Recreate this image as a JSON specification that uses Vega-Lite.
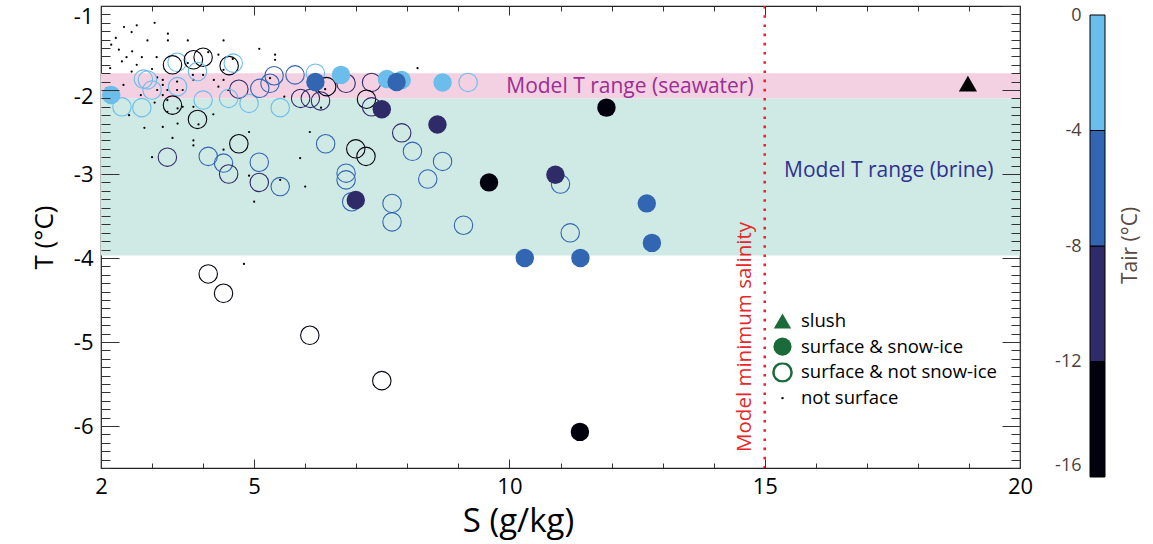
{
  "$schema": "https://vega.github.io/schema/vega-lite/v6.json",
  "width": 919,
  "height": 462,
  "autosize": {"type": "none"},
  "padding": {"left": 101, "top": 6, "right": 133, "bottom": 76},
  "background": "white",
  "config": {
    "font": "Open Sans",
    "view": {"stroke": "#222", "strokeWidth": 1.2}
  },
  "datasets": {
    "pinkband": [{"S": 2, "S2": 20, "T": -1.8, "T2": -2.1}],
    "tealband": [{"S": 2, "S2": 20, "T": -2.1, "T2": -3.97}],
    "rule": [{"S": 15, "T": -1, "T2": -6.5}],
    "kinds": [{"kind": "slush"}, {"kind": "surface & snow-ice"}, {"kind": "surface & not snow-ice"}, {"kind": "not surface"}],
    "dots": [
      {"S":2.70,"T":-1.23},{"S":2.60,"T":-1.31},{"S":2.29,"T":-1.38},{"S":2.20,"T":-1.46},
      {"S":2.91,"T":-1.41},{"S":3.31,"T":-1.33},{"S":3.31,"T":-1.41},{"S":3.70,"T":-1.41},
      {"S":4.40,"T":-1.41},{"S":5.10,"T":-1.51},{"S":2.61,"T":-1.54},{"S":2.50,"T":-1.61},
      {"S":2.41,"T":-1.66},{"S":2.80,"T":-1.61},{"S":3.09,"T":-1.61},{"S":2.70,"T":-1.70},
      {"S":3.70,"T":-1.68},{"S":4.30,"T":-1.58},{"S":5.41,"T":-1.58},{"S":5.41,"T":-1.64},
      {"S":3.10,"T":-1.85},{"S":3.21,"T":-1.88},{"S":3.21,"T":-1.94},{"S":3.49,"T":-1.90},
      {"S":3.60,"T":-2.00},{"S":3.49,"T":-2.00},{"S":3.30,"T":-2.00},{"S":3.80,"T":-1.82},
      {"S":4.00,"T":-1.82},{"S":3.81,"T":-1.88},{"S":4.21,"T":-1.88},{"S":4.30,"T":-1.96},
      {"S":4.40,"T":-1.88},{"S":4.49,"T":-2.00},{"S":4.40,"T":-1.76},{"S":4.58,"T":-1.63},
      {"S":2.44,"T":-1.94},{"S":2.11,"T":-1.98},{"S":2.78,"T":-2.06},{"S":3.10,"T":-2.00},
      {"S":3.21,"T":-2.06},{"S":3.30,"T":-2.12},{"S":3.60,"T":-2.20},{"S":3.81,"T":-2.20},
      {"S":3.30,"T":-2.26},{"S":4.20,"T":-2.29},{"S":3.50,"T":-2.40},{"S":3.91,"T":-2.41},
      {"S":3.21,"T":-2.44},{"S":3.40,"T":-2.57},{"S":3.81,"T":-2.60},{"S":3.81,"T":-2.66},
      {"S":3.00,"T":-2.80},{"S":4.40,"T":-2.71},{"S":4.90,"T":-2.50},{"S":4.90,"T":-3.02},
      {"S":5.51,"T":-3.07},{"S":5.90,"T":-2.81},{"S":6.00,"T":-3.15},{"S":6.09,"T":-2.50},
      {"S":5.59,"T":-2.08},{"S":5.31,"T":-1.86},{"S":2.18,"T":-1.74},{"S":3.50,"T":-2.22},
      {"S":5.00,"T":-3.33},{"S":4.80,"T":-4.07},{"S":8.20,"T":-1.74},{"S":6.39,"T":-1.99},
      {"S":6.31,"T":-2.21},{"S":2.45,"T":-1.25},{"S":3.05,"T":-1.20},{"S":2.35,"T":-1.52},
      {"S":3.00,"T":-1.75},{"S":2.60,"T":-1.78},{"S":2.30,"T":-2.08},{"S":2.55,"T":-2.30},
      {"S":3.05,"T":-2.15},{"S":2.85,"T":-2.45},{"S":4.10,"T":-1.55}
    ],
    "open": [
      {"S":3.49,"T":-1.67,"Tair":-2},{"S":3.40,"T":-1.70,"Tair":-14},{"S":3.81,"T":-1.64,"Tair":-14},{"S":4.00,"T":-1.61,"Tair":-14},
      {"S":3.89,"T":-1.78,"Tair":-2},{"S":4.51,"T":-1.71,"Tair":-14},{"S":4.59,"T":-1.68,"Tair":-2},{"S":2.83,"T":-1.87,"Tair":-2},
      {"S":2.91,"T":-1.88,"Tair":-2},{"S":3.00,"T":-2.00,"Tair":-2},{"S":2.41,"T":-2.20,"Tair":-2},{"S":2.80,"T":-2.21,"Tair":-2},
      {"S":3.50,"T":-1.96,"Tair":-2},{"S":3.40,"T":-2.18,"Tair":-14},{"S":4.00,"T":-2.12,"Tair":-2},{"S":3.89,"T":-2.35,"Tair":-14},
      {"S":4.70,"T":-1.99,"Tair":-10},{"S":4.50,"T":-2.10,"Tair":-2},{"S":4.90,"T":-2.16,"Tair":-2},{"S":5.11,"T":-1.98,"Tair":-6},
      {"S":5.31,"T":-1.92,"Tair":-6},{"S":5.39,"T":-1.83,"Tair":-6},{"S":5.51,"T":-2.21,"Tair":-2},{"S":5.80,"T":-1.82,"Tair":-6},
      {"S":6.20,"T":-1.80,"Tair":-2},{"S":5.91,"T":-2.10,"Tair":-10},{"S":6.10,"T":-2.10,"Tair":-10},{"S":6.30,"T":-2.13,"Tair":-10},
      {"S":6.42,"T":-1.96,"Tair":-14},{"S":6.80,"T":-1.92,"Tair":-10},{"S":7.30,"T":-1.91,"Tair":-10},{"S":7.20,"T":-2.11,"Tair":-14},
      {"S":7.30,"T":-2.20,"Tair":-10},{"S":6.40,"T":-2.64,"Tair":-6},{"S":4.70,"T":-2.64,"Tair":-14},{"S":6.99,"T":-2.70,"Tair":-14},
      {"S":7.19,"T":-2.79,"Tair":-14},{"S":3.30,"T":-2.80,"Tair":-10},{"S":4.10,"T":-2.79,"Tair":-6},{"S":4.40,"T":-2.87,"Tair":-6},
      {"S":4.50,"T":-3.00,"Tair":-10},{"S":5.10,"T":-2.86,"Tair":-6},{"S":5.10,"T":-3.10,"Tair":-10},{"S":5.51,"T":-3.15,"Tair":-6},
      {"S":6.80,"T":-2.99,"Tair":-6},{"S":6.80,"T":-3.07,"Tair":-6},{"S":6.91,"T":-3.33,"Tair":-6},{"S":7.89,"T":-2.51,"Tair":-10},
      {"S":8.10,"T":-2.73,"Tair":-6},{"S":8.69,"T":-2.85,"Tair":-6},{"S":8.40,"T":-3.06,"Tair":-6},{"S":7.70,"T":-3.35,"Tair":-6},
      {"S":7.70,"T":-3.57,"Tair":-6},{"S":9.10,"T":-3.61,"Tair":-6},{"S":9.19,"T":-1.91,"Tair":-2},{"S":11.00,"T":-3.12,"Tair":-6},
      {"S":11.19,"T":-3.70,"Tair":-6},{"S":4.10,"T":-4.19,"Tair":-14},{"S":4.40,"T":-4.42,"Tair":-14},{"S":6.09,"T":-4.92,"Tair":-14},
      {"S":7.50,"T":-5.46,"Tair":-14}
    ],
    "filled": [
      {"S":2.20,"T":-2.06,"Tair":-2},{"S":6.70,"T":-1.82,"Tair":-2},{"S":7.60,"T":-1.87,"Tair":-2},{"S":7.89,"T":-1.88,"Tair":-2},
      {"S":8.69,"T":-1.91,"Tair":-2},{"S":6.20,"T":-1.905,"Tair":-6},{"S":7.79,"T":-1.905,"Tair":-6},{"S":12.69,"T":-3.35,"Tair":-6},
      {"S":12.79,"T":-3.82,"Tair":-6},{"S":10.30,"T":-4.00,"Tair":-6},{"S":11.39,"T":-4.00,"Tair":-6},{"S":7.50,"T":-2.23,"Tair":-10},
      {"S":8.59,"T":-2.41,"Tair":-10},{"S":6.99,"T":-3.31,"Tair":-10},{"S":10.90,"T":-3.01,"Tair":-10},{"S":9.60,"T":-3.10,"Tair":-14},
      {"S":11.90,"T":-2.21,"Tair":-14},{"S":11.38,"T":-6.07,"Tair":-14}
    ],
    "slush": [{"S":18.98,"T":-1.925}],
    "notes": [
      {"S":12.36,"T":-1.96,"label":"Model T range (seawater)","what":"sea"},
      {"S":17.43,"T":-2.96,"label":"Model T range (brine)","what":"brine"},
      {"S":14.61,"T":-4.94,"label":"Model minimum salinity","what":"sal"}
    ],
    "bins": [{"lo": -16}, {"lo": -12}, {"lo": -8}, {"lo": -4}, {"lo": 0}]
  },
  "layer": [
    {
      "encoding": {
        "x": {
          "field": "S", "type": "quantitative",
          "scale": {"domain": [2, 20], "nice": false, "zero": false},
          "axis": {
            "orient": "bottom", "title": "S (g/kg)",
            "values": [2,3,4,5,6,7,8,9,10,11,12,13,14,15,16,17,18,19,20],
            "labelExpr": "indexof([2,5,10,15,20], datum.value) >= 0 ? '' + datum.value : ''",
            "ticks": false, "domain": false, "grid": true,
            "gridColor": "#333", "gridWidth": 1, "gridOpacity": 1,
            "gridDash": {"condition": {"test": "indexof([5,10,15], datum.value) >= 0", "value": [9, 444]}, "value": [5, 452]},
            "labelFontSize": 22, "labelColor": "black", "labelPadding": 8, "labelFlush": false, "labelOverlap": false, "labelBound": false,
            "titleFontSize": 33, "titleFontWeight": "normal", "titleColor": "black", "titlePadding": 8, "titleX": 417,
            "zindex": 1
          }
        },
        "y": {
          "field": "T", "type": "quantitative",
          "scale": {"domain": [-6.5, -1], "nice": false, "zero": false},
          "axis": {
            "orient": "left", "title": "T (°C)",
            "values": [-6.5,-6.4,-6.3,-6.2,-6.1,-6,-5.9,-5.8,-5.7,-5.6,-5.5,-5.4,-5.3,-5.2,-5.1,-5,-4.9,-4.8,-4.7,-4.6,-4.5,-4.4,-4.3,-4.2,-4.1,-4,-3.9,-3.8,-3.7,-3.6,-3.5,-3.4,-3.3,-3.2,-3.1,-3,-2.9,-2.8,-2.7,-2.6,-2.5,-2.4,-2.3,-2.2,-2.1,-2,-1.9,-1.8,-1.7,-1.6,-1.5,-1.4,-1.3,-1.2,-1.1,-1],
            "labelExpr": "abs(datum.value - round(datum.value)) < 0.001 ? '' + round(datum.value) : ''",
            "labelOffset": {"condition": [{"test": "datum.value === -1", "value": 10}, {"test": "datum.value === -2", "value": 6}], "value": 0},
            "ticks": false, "domain": false, "grid": true,
            "gridColor": "#333", "gridWidth": 1, "gridOpacity": 1,
            "gridDash": {"condition": {"test": "abs(datum.value - round(datum.value)) < 0.001", "value": [18, 883]}, "value": [9, 901]},
            "labelFontSize": 22, "labelColor": "black", "labelPadding": 8, "labelFlush": false, "labelOverlap": false, "labelBound": false,
            "titleFontSize": 26, "titleFontWeight": "normal", "titleColor": "black", "titlePadding": 16,
            "zindex": 1
          }
        }
      },
      "layer": [
        {
          "data": {"name": "pinkband"},
          "mark": {"type": "rect", "strokeWidth": 0, "color": "#f3d0e2"},
          "encoding": {"x2": {"field": "S2"}, "y2": {"field": "T2"}}
        },
        {
          "data": {"name": "tealband"},
          "mark": {"type": "rect", "strokeWidth": 0, "color": "#cfe9e4"},
          "encoding": {"x2": {"field": "S2"}, "y2": {"field": "T2"}}
        },
        {
          "data": {"name": "rule"},
          "mark": {"type": "rule", "color": "#e8262a", "strokeWidth": 2.6, "strokeDash": [2.6, 6.6]},
          "encoding": {"y2": {"field": "T2"}}
        },
        {
          "data": {"name": "dots"},
          "mark": {"type": "point", "shape": "circle", "filled": true, "size": 5, "color": "black", "opacity": 1}
        },
        {
          "data": {"name": "open"},
          "mark": {"type": "point", "shape": "circle", "filled": false, "size": 340, "strokeWidth": 1.1, "opacity": 1},
          "encoding": {
            "color": {
              "field": "Tair", "type": "quantitative",
              "scale": {"type": "quantize", "domain": [-16, 0], "nice": false, "zero": false, "range": ["#02020f", "#2f2a68", "#3366b2", "#6bbdeb"]},
              "legend": {
                "type": "gradient", "orient": "none", "legendX": 989, "legendY": 9, "direction": "vertical",
                "gradientLength": 462, "gradientThickness": 15, "gradientStrokeColor": "black", "gradientStrokeWidth": 1,
                "title": null, "labelOpacity": 0, "labelFontSize": 1
              }
            }
          }
        },
        {
          "data": {"name": "filled"},
          "mark": {"type": "point", "shape": "circle", "filled": true, "size": 340, "opacity": 1},
          "encoding": {
            "color": {
              "field": "Tair", "type": "quantitative",
              "scale": {"type": "quantize", "domain": [-16, 0], "nice": false, "zero": false, "range": ["#02020f", "#2f2a68", "#3366b2", "#6bbdeb"]}
            }
          }
        },
        {
          "data": {"name": "slush"},
          "mark": {"type": "point", "shape": "triangle-up", "filled": true, "size": 330, "color": "black", "opacity": 1}
        },
        {
          "data": {"name": "kinds"},
          "mark": {"type": "point", "opacity": 1},
          "encoding": {
            "shape": {
              "field": "kind", "type": "nominal",
              "scale": {"domain": ["slush", "surface & snow-ice", "surface & not snow-ice", "not surface"], "range": ["triangle-up", "circle", "circle", "circle"]},
              "legend": {
                "orient": "none", "legendX": 671, "legendY": 305, "title": null,
                "labelFontSize": 18.5, "labelColor": "black", "labelOffset": 8, "labelLimit": 400,
                "rowPadding": 5.7, "clipHeight": 20, "symbolOpacity": 1
              }
            },
            "fill": {
              "field": "kind", "type": "nominal",
              "scale": {"domain": ["slush", "surface & snow-ice", "surface & not snow-ice", "not surface"], "range": ["#1b6b3a", "#1b6b3a", "#ffffff", "#000000"]}
            },
            "stroke": {
              "field": "kind", "type": "nominal",
              "scale": {"domain": ["slush", "surface & snow-ice", "surface & not snow-ice", "not surface"], "range": ["transparent", "transparent", "#1b6b3a", "transparent"]}
            },
            "size": {
              "field": "kind", "type": "nominal",
              "scale": {"type": "ordinal", "domain": ["slush", "surface & snow-ice", "surface & not snow-ice", "not surface"], "range": [300, 330, 330, 6]}
            },
            "strokeWidth": {
              "field": "kind", "type": "nominal",
              "scale": {"type": "ordinal", "domain": ["slush", "surface & snow-ice", "surface & not snow-ice", "not surface"], "range": [0, 0, 2.5, 0]}
            }
          }
        },
        {
          "data": {"name": "notes"},
          "transform": [{"filter": "datum.what === 'sea'"}],
          "mark": {"type": "text", "fontSize": 21, "color": "#9a2f93", "align": "center", "baseline": "middle"},
          "encoding": {"text": {"field": "label"}}
        },
        {
          "data": {"name": "notes"},
          "transform": [{"filter": "datum.what === 'brine'"}],
          "mark": {"type": "text", "fontSize": 21, "color": "#2e3192", "align": "center", "baseline": "middle"},
          "encoding": {"text": {"field": "label"}}
        },
        {
          "data": {"name": "notes"},
          "transform": [{"filter": "datum.what === 'sal'"}],
          "mark": {"type": "text", "fontSize": 20.5, "color": "#e8262a", "align": "center", "baseline": "middle", "angle": 270},
          "encoding": {"text": {"field": "label"}}
        }
      ]
    },
    {
      "data": {"name": "bins"},
      "mark": {"type": "rule", "opacity": 0},
      "encoding": {
        "y": {
          "field": "lo", "type": "quantitative",
          "scale": {"domain": [-16, 0], "nice": false, "zero": false},
          "axis": {
            "orient": "left", "offset": -989, "title": null, "values": [-16, -12, -8, -4, 0],
            "labelExpr": "'' + datum.value",
            "labelOffset": {"condition": {"test": "datum.value === -16", "value": -3}, "value": 9},
            "ticks": false, "domain": false, "grid": false,
            "labelFontSize": 18, "labelColor": "#4d3f3a", "labelPadding": 9, "labelFlush": false, "labelOverlap": false, "labelBound": false
          }
        }
      }
    },
    {
      "data": {"name": "bins"},
      "mark": {"type": "rule", "opacity": 0},
      "encoding": {
        "y": {
          "field": "lo", "type": "quantitative",
          "scale": {"domain": [-16, 0], "nice": false, "zero": false},
          "axis": {
            "orient": "right", "offset": 85, "title": "Tair (°C)", "labels": false, "ticks": false, "domain": false, "grid": false,
            "titleAngle": 270, "titleBaseline": "top", "titleFontSize": 21, "titleColor": "#5a4a44", "titleFontWeight": "normal",
            "titlePadding": 14, "titleY": 239
          }
        }
      }
    }
  ],
  "resolve": {"scale": {"y": "independent"}, "axis": {"y": "independent"}}
}
